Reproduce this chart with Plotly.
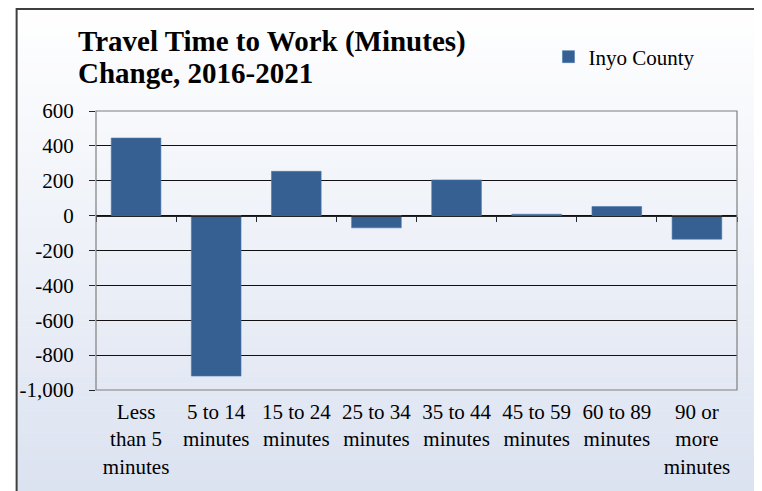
import plotly.graph_objects as go

categories = ["Less<br>than 5<br>minutes", "5 to 14<br>minutes", "15 to 24<br>minutes",
              "25 to 34<br>minutes", "35 to 44<br>minutes", "45 to 59<br>minutes",
              "60 to 89<br>minutes", "90 or<br>more<br>minutes"]
values = [445, -920, 254, -70, 205, 8, 52, -135]
series_name = "Inyo County"
y_tickvals = [600, 400, 200, 0, -200, -400, -600, -800, -1000]
y_ticktext = ["600", "400", "200", "0", "-200", "-400", "-600", "-800", "-1,000"]
title_lines = ["Travel Time to Work (Minutes)", "Change, 2016-2021"]

OFF = 8  # page offset of the figure inside the browser window
W, H = 762 - OFF, 491 - OFF
PL, PR, PT, PB = 91, 737, 111, 390
L, T = PL - OFF, PT - OFF
pw, ph = PR - PL, PB - PT
R = W - L - pw
B = H - T - ph

def px_x(p):
    return (p - PL) / pw

def px_y(p):
    return (PB - p) / ph

FONT = "Liberation Serif"
BAR = "#366092"

fig = go.Figure()
fig.add_trace(go.Bar(
    x=categories, y=values, name=series_name,
    marker=dict(color=BAR, line=dict(color="#4a78ad", width=0.6)),
    showlegend=True,
))

shapes = []
top_c = (255, 255, 255)
bot_c = (219, 226, 240)
y_top, y_bot = 6, 495
N = 70
for i in range(N):
    a = y_top + (y_bot - y_top) * i / N
    b = y_top + (y_bot - y_top) * (i + 1) / N
    t = (i + 0.5) / N
    c = tuple(round(top_c[k] + (bot_c[k] - top_c[k]) * t) for k in range(3))
    shapes.append(dict(type="rect", xref="paper", yref="paper", layer="below",
                       x0=px_x(11), x1=px_x(757), y0=px_y(b + 0.5), y1=px_y(a),
                       line=dict(width=0), fillcolor="rgb(%d,%d,%d)" % c))
shapes.append(dict(type="rect", xref="paper", yref="paper", layer="below",
                   x0=px_x(11), x1=px_x(757), y0=px_y(520), y1=px_y(9),
                   line=dict(color="#3f3f3f", width=2), fillcolor="rgba(0,0,0,0)"))
shapes.append(dict(type="rect", xref="paper", yref="paper", layer="above",
                   x0=0, x1=1, y0=0, y1=1,
                   line=dict(color="#7f7f7f", width=1.2), fillcolor="rgba(0,0,0,0)"))

annotations = [
    dict(text="<b>%s</b>" % title_lines[0], xref="paper", yref="paper",
         x=px_x(71), y=px_y(41), xanchor="left", yanchor="middle", showarrow=False,
         font=dict(family=FONT, size=29, color="black")),
    dict(text="<b>%s</b>" % title_lines[1], xref="paper", yref="paper",
         x=px_x(71), y=px_y(72.5), xanchor="left", yanchor="middle", showarrow=False,
         font=dict(family=FONT, size=29, color="black")),
]

fig.update_layout(
    width=W, height=H,
    margin=dict(l=L, r=R, t=T, b=B, pad=0),
    paper_bgcolor="white", plot_bgcolor="rgba(0,0,0,0)",
    font=dict(family=FONT, size=21, color="black"),
    bargap=0.38,
    shapes=shapes, annotations=annotations,
    legend=dict(x=px_x(547), y=px_y(57), xanchor="left", yanchor="middle",
                bgcolor="rgba(0,0,0,0)", font=dict(family=FONT, size=21, color="black"),
                itemclick=False),
    xaxis=dict(type="category", categoryarray=categories, range=[-0.5, 7.5],
               showgrid=False, showline=False, ticks="", zeroline=False,
               ticklabelstandoff=7,
               tickfont=dict(family=FONT, size=21, color="black")),
    xaxis2=dict(type="category", categoryarray=categories, range=[-0.5, 7.5],
                overlaying="x", anchor="free", position=px_y(216), side="bottom",
                showticklabels=False, showline=True, linecolor="#262626", linewidth=1.3,
                ticks="outside", tickson="boundaries", ticklen=5, tickcolor="#262626",
                tickwidth=1.3, showgrid=False, matches="x"),
    yaxis=dict(range=[-1000, 600], tickvals=y_tickvals, ticktext=y_ticktext,
               showgrid=True, gridcolor="#111111", gridwidth=1,
               zeroline=False, showline=False,
               ticks="outside", ticklen=6, tickcolor="#262626",
               ticklabelstandoff=11,
               tickfont=dict(family=FONT, size=21, color="black")),
)

fig.add_trace(go.Bar(x=categories, y=[0] * len(categories), xaxis="x2",
                     showlegend=False, hoverinfo="skip", marker=dict(opacity=0)))

fig.write_html("out.html")
